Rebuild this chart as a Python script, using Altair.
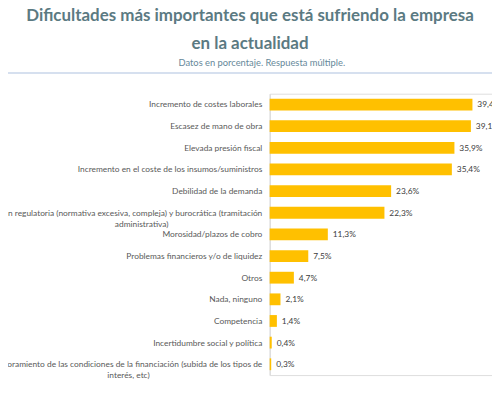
import altair as alt
import pandas as pd

PAD = "\u2003"
END = "\u2800"
categories = [
    "Incremento de costes laborales",
    "Escasez de mano de obra",
    "Elevada presión fiscal",
    "Incremento en el coste de los insumos/suministros",
    "Debilidad de la demanda",
    "Presión regulatoria (normativa excesiva, compleja) y burocrática (tramitación|administrativa)" + PAD * 14 + END,
    "Morosidad/plazos de cobro",
    "Problemas financieros y/o de liquidez",
    "Otros",
    "Nada, ninguno",
    "Competencia",
    "Incertidumbre social y política",
    "Empeoramiento de las condiciones de la financiación (subida de los tipos de|interés, etc)" + PAD * 17 + END,
]
values = [39.4, 39.1, 35.9, 35.4, 23.6, 22.3, 11.3, 7.5, 4.7, 2.1, 1.4, 0.4, 0.3]

title_lines = ["Dificultades más importantes que está sufriendo la empresa", "en la actualidad"]
subtitle = "Datos en porcentaje. Respuesta múltiple."

df = pd.DataFrame({
    "cat": categories,
    "val": values,
    "lab": [f"{v:.1f}%".replace(".", ",") for v in values],
})

FONT = "Lato"
y_enc = alt.Y(
    "cat:N",
    sort=categories,
    title=None,
    scale=alt.Scale(paddingInner=0.4545, paddingOuter=0.2273),
    axis=alt.Axis(
        labelExpr="split(datum.label, '|')",
        labelFont=FONT,
        labelFontSize=8.5,
        labelColor="#595959",
        labelPadding=8,
        labelLimit=0,
        ticks=False,
        domainColor="#d9d9d9",
        domainWidth=1,
        grid=False,
        labelLineHeight=11,
    ),
)
x_enc = alt.X("val:Q", scale=alt.Scale(domain=[0, 43.2], nice=False), axis=None)

bars = alt.Chart(df).mark_bar(color="#FFC000").encode(y=y_enc, x=x_enc)
labels = alt.Chart(df).mark_text(
    align="left", baseline="middle", dx=5, font=FONT, fontSize=8.5, color="#404040"
).encode(y=alt.Y("cat:N", sort=categories), x=x_enc, text="lab:N")

hdr = pd.DataFrame({"t": [title_lines[0]]})
t1 = alt.Chart(hdr).mark_text(
    font=FONT, fontSize=17.2, fontWeight="bold", color="#5b7a82", align="center", baseline="middle"
).encode(x=alt.value(-20), y=alt.value(-79), text="t:N")
hdr2 = pd.DataFrame({"t": [title_lines[1]]})
t2 = alt.Chart(hdr2).mark_text(
    font=FONT, fontSize=17.2, fontWeight="bold", color="#5b7a82", align="center", baseline="middle"
).encode(x=alt.value(-20), y=alt.value(-50), text="t:N")
hdr3 = pd.DataFrame({"t": [subtitle]})
t3 = alt.Chart(hdr3).mark_text(
    font=FONT, fontSize=9.5, color="#66889a", align="center", baseline="middle"
).encode(x=alt.value(-8), y=alt.value(-31), text="t:N")
sep = alt.Chart(hdr).mark_rule(color="#c9d6ea", strokeWidth=1.5).encode(
    x=alt.value(-274), x2=alt.value(226), y=alt.value(-21)
)

chart = alt.layer(bars, labels, t1, t2, t3, sep).properties(
    width=226,
    height=286,
    autosize=alt.AutoSizeParams(type="none"),
    padding={"left": 266, "top": 84, "right": 0, "bottom": 10},
).configure_view(stroke=None).configure(background="white")

chart.save("out.html", embed_options={"renderer": "svg", "actions": False})
